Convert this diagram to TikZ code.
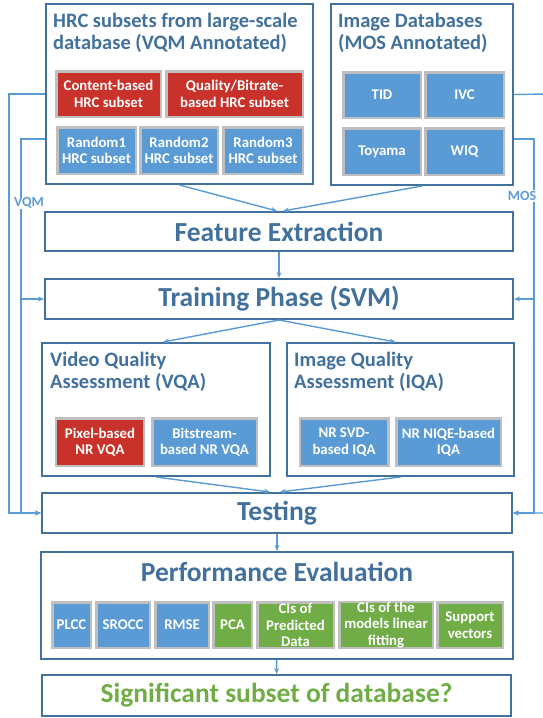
\documentclass[tikz,border=0pt]{standalone}
\usepackage{fontspec}
\setmainfont{Carlito}[BoldFont={Carlito Bold}]
\usetikzlibrary{arrows.meta,calc}
\definecolor{darkblue}{RGB}{65,113,156}
\definecolor{linkblue}{RGB}{91,155,213}
\definecolor{cellblue}{RGB}{91,155,213}
\definecolor{cellred}{RGB}{200,50,42}
\definecolor{cellgreen}{RGB}{112,173,71}
\definecolor{edgegray}{RGB}{191,191,191}
\definecolor{answergreen}{RGB}{112,173,71}

\begin{document}
\begin{tikzpicture}[x=1pt,y=-1pt,
  bigbox/.style={draw=darkblue,line width=2pt,fill=white,inner sep=0pt},
  title/.style={anchor=west,align=left,text=darkblue,inner sep=0pt,
    font=\bfseries\fontsize{20.5}{22}\selectfont},
  stage/.style={bigbox,text=darkblue,font=\bfseries\fontsize{27.5}{29}\selectfont},
  cell/.style={draw=edgegray,line width=2.5pt,text=white,align=center,inner sep=0pt,
    font=\bfseries\fontsize{14.8}{16.5}\selectfont},
  cr/.style={cell,fill=cellred},
  cb/.style={cell,fill=cellblue},
  cg/.style={cell,fill=cellgreen},
  conn/.style={draw=linkblue,line width=1.4pt},
  arr/.style={conn,-{Stealth[length=6pt,width=5pt]}},
  tag/.style={fill=white,text=linkblue,inner sep=1pt,
    font=\bfseries\fontsize{14}{15}\selectfont}
]
\useasboundingbox[fill=white] (0,0) rectangle (543,718);

% ---------- source databases ----------
\node[bigbox,minimum width=267pt,minimum height=180pt] (hrc) at (179.5,94) {};
\node[title] (hrct) at (53,33) {HRC subsets from large-scale\\database (VQM Annotated)};
\node[cr,minimum width=104.5pt,minimum height=45.5pt] (cbh) at (108.5,94) {Content-based\\HRC subset};
\node[cr,minimum width=136.5pt,minimum height=45.5pt] (qbh) at (234.5,94) {Quality/Bitrate-\\based HRC subset};
\node[cb,minimum width=78.5pt,minimum height=46.5pt] (r1) at (96.5,150.5) {Random1\\HRC subset};
\node[cb,minimum width=77.5pt,minimum height=46.5pt] (r2) at (179,150.5) {Random2\\HRC subset};
\node[cb,minimum width=79.5pt,minimum height=46.5pt] (r3) at (263,150.5) {Random3\\HRC subset};

\node[bigbox,minimum width=182pt,minimum height=181pt] (imgdb) at (422,94.5) {};
\node[title] (imgt) at (338,33) {Image Databases\\(MOS Annotated)};
\node[cb,minimum width=77.5pt,minimum height=45.5pt] (tid) at (382,95) {TID};
\node[cb,minimum width=78.5pt,minimum height=45.5pt] (ivc) at (464.5,95) {IVC};
\node[cb,minimum width=77.5pt,minimum height=46.5pt] (toy) at (382,151.5) {Toyama};
\node[cb,minimum width=78.5pt,minimum height=46.5pt] (wiq) at (464.5,151.5) {WIQ};

% ---------- processing stages ----------
\node[stage,minimum width=468pt,minimum height=39pt] (feat) at (279,231.5) {Feature Extraction};
\node[stage,minimum width=468pt,minimum height=40pt] (train) at (279,299) {Training Phase (SVM)};

\node[bigbox,minimum width=228pt,minimum height=133pt] (vqa) at (156,409.5) {};
\node[title] (vqat) at (50,372) {Video Quality\\Assessment (VQA)};
\node[cr,minimum width=88pt,minimum height=47.5pt] (pix) at (100,442) {Pixel-based\\NR VQA};
\node[cb,minimum width=104.5pt,minimum height=47.5pt] (bit) at (204.5,442) {Bitstream-\\based NR VQA};

\node[bigbox,minimum width=227pt,minimum height=133pt] (iqa) at (400.5,409.5) {};
\node[title] (iqat) at (294,372) {Image Quality\\Assessment (IQA)};
\node[cb,minimum width=88.5pt,minimum height=47.5pt] (svd) at (344,442) {NR SVD-\\based IQA};
\node[cb,minimum width=104.5pt,minimum height=47.5pt] (niqe) at (448.5,442) {NR NIQE-based\\IQA};

\node[stage,minimum width=470pt,minimum height=40pt] (test) at (277,513) {Testing};

\node[bigbox,minimum width=472pt,minimum height=107pt] (perf) at (277,605.5) {};
\node[text=darkblue,inner sep=0pt,font=\bfseries\fontsize{27.5}{29}\selectfont] (perft) at (277,572) {Performance Evaluation};
\node[cb,minimum width=38.5pt,minimum height=45.5pt] (plcc) at (71.5,625) {PLCC};
\node[cb,minimum width=53.5pt,minimum height=45.5pt] (srocc) at (123,625) {SROCC};
\node[cb,minimum width=53.5pt,minimum height=45.5pt] (rmse) at (182,625) {RMSE};
\node[cg,minimum width=38.5pt,minimum height=45.5pt] (pca) at (232.5,625) {PCA};
\node[cg,minimum width=76.5pt,minimum height=45.5pt] (cipd) at (295.5,625) {CIs of\\Predicted\\Data};
\node[cg,minimum width=93.5pt,minimum height=45.5pt] (cilf) at (386,625) {CIs of the\\models linear\\fitting};
\node[cg,minimum width=65.5pt,minimum height=45.5pt] (supv) at (470,625) {Support\\vectors};

\node[stage,text=answergreen,minimum width=469pt,minimum height=41pt] (sig) at (276.5,695.5) {Significant subset of database?};

% ---------- main flow ----------
\draw[arr] (hrc.south) -- ([xshift=-2pt]feat.north);
\draw[arr] (imgdb.south) -- ([xshift=4pt]feat.north);
\draw[arr] (feat) -- (train);
\draw[arr] (train.south) -- ([xshift=7pt]vqa.north);
\draw[arr] (train.south) -- ([xshift=-5pt]iqa.north);
\draw[arr] (vqa.south) -- ([xshift=-7pt]test.north);
\draw[arr] (iqa.south) -- ([xshift=3pt]test.north);
\draw[arr] (test) -- (perf);
\draw[arr] (perf) -- (sig);

% ---------- VQM annotations (left) ----------
\coordinate (vqmout) at (9,94);
\coordinate (vqmin) at (21,139);
\draw[arr] (hrc.west) -- (vqmout) |- (test.west);
\draw[arr] (hrc.west |- vqmin) -- (vqmin) |- (test.west);
\draw[arr] (vqmin |- train.west) -- (train.west);
\node[tag] (vqm) at (29,203) {VQM};

% ---------- MOS annotations (right); the outer return runs past the page edge ----------
\coordinate (mosout) at (547,94);
\coordinate (mosin) at (534,139);
\draw[arr] (imgdb.east) -- (mosout) |- (test.east);
\draw[arr] (imgdb.east |- mosin) -- (mosin) |- (test.east);
\draw[arr] (mosin |- train.east) -- (train.east);
\node[tag] (mos) at (522,196) {MOS};
\end{tikzpicture}
\end{document}
